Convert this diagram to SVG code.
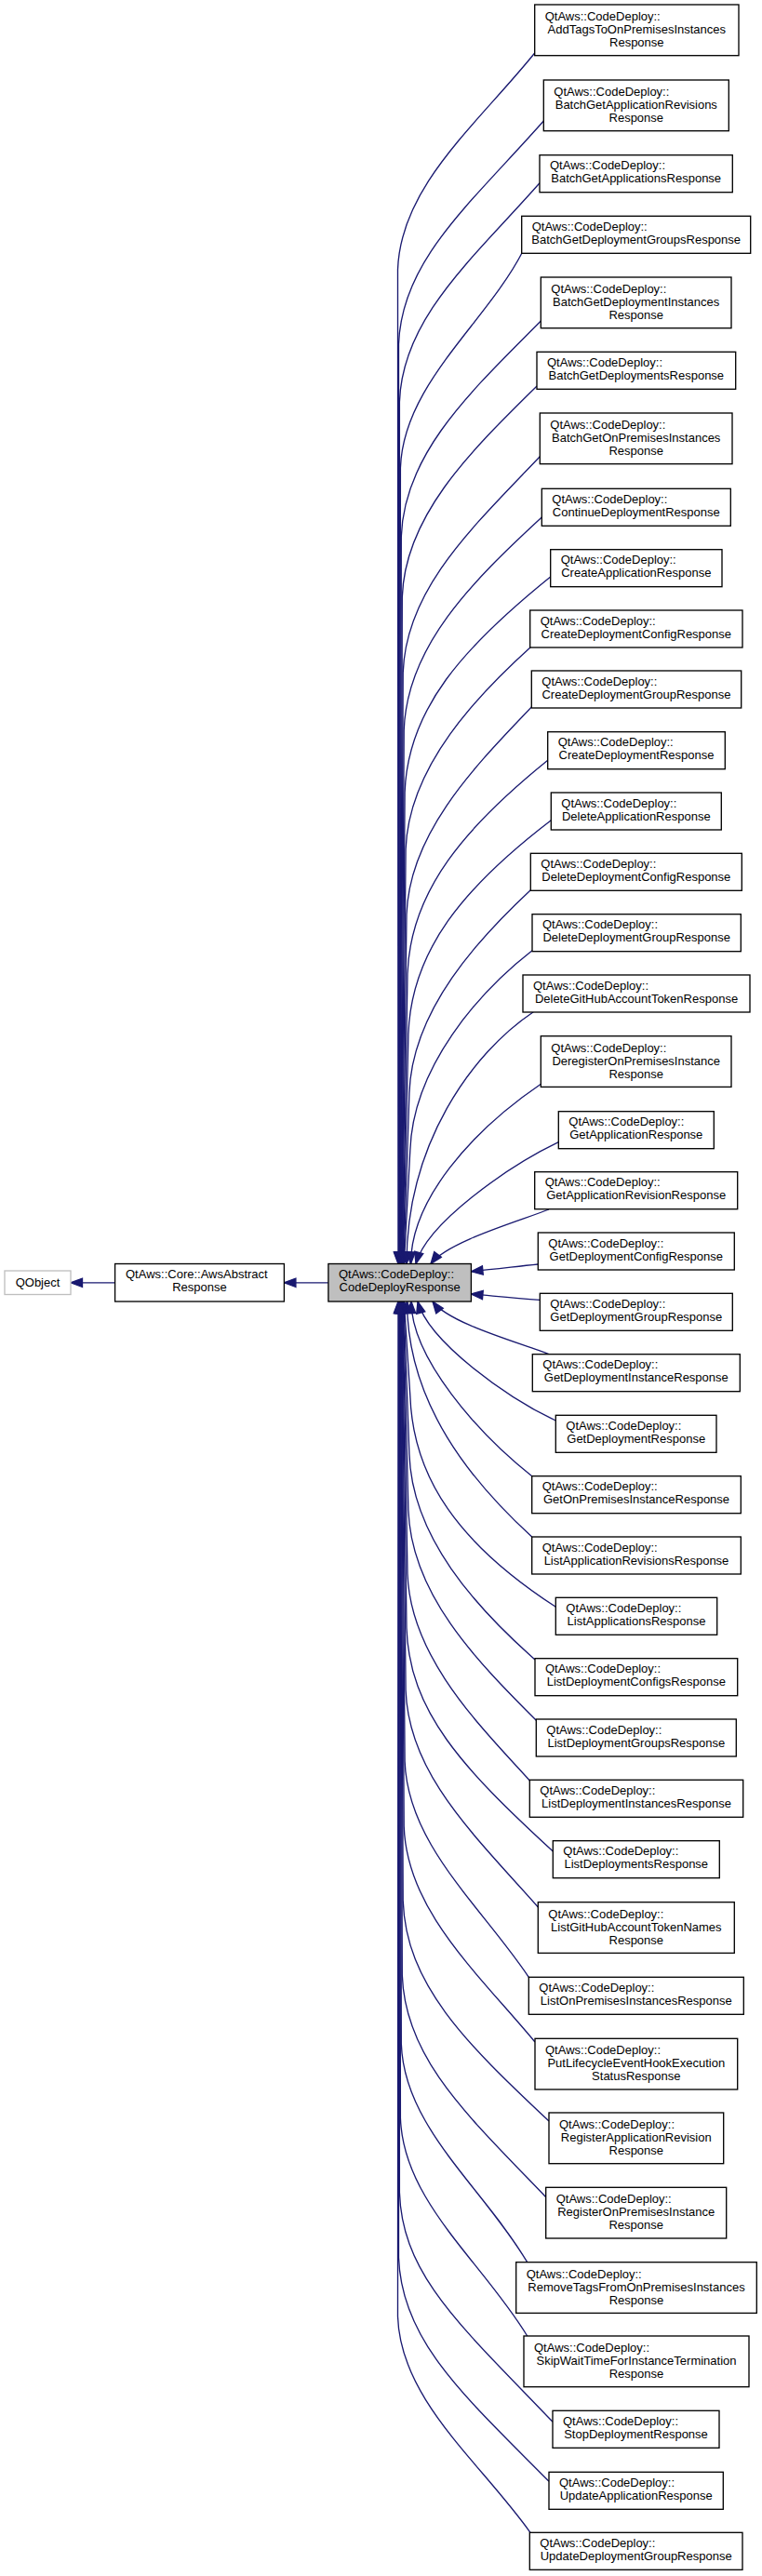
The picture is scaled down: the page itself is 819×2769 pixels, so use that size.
<svg xmlns="http://www.w3.org/2000/svg" width="819" height="2769" viewBox="0 0 819 2769">
<defs>
<style>
.n rect{fill:#ffffff;stroke:#000000;stroke-width:1.33}
.g rect{fill:#ffffff;stroke:#bfbfbf;stroke-width:1.33}
.p rect{fill:#bfbfbf;stroke:#000000;stroke-width:1.33}
text{font-family:"Liberation Sans",Arial,Helvetica,sans-serif;font-size:13px;fill:#000000}
.m{text-anchor:middle}
#edges path{fill:none;stroke:#191970;stroke-width:1.33;marker-end:url(#ah)}
</style>
<marker id="ah" markerUnits="userSpaceOnUse" markerWidth="14" markerHeight="10" refX="12.5" refY="4.7" orient="auto" overflow="visible"><path d="M0,0 L12.5,4.7 L0,9.4 Z" fill="#191970" stroke="#191970" stroke-width="1.33"/></marker>
</defs>
<rect x="0" y="0" width="819" height="2769" fill="#ffffff"/>
<g id="edges">
<path d="M352.9,1378.8 L305.4,1378.8"/>
<path d="M123.6,1378.8 L76,1378.8"/>
<path d="M574.7,57 C512.2,134.4 430.5,200 427.5,290 L428,1358.5"/>
<path d="M584.3,130 C504.6,220 431.5,280 428.5,370 L428.5,1358.5"/>
<path d="M580,196.7 C508,278.2 432.4,342 429.4,432 L429,1358.5"/>
<path d="M562,270 C522.4,347.4 433.4,413 430.4,503 L429.4,1358.5"/>
<path d="M581.3,345 C507,420 434.3,486.7 431.3,576.7 L429.8,1358.5"/>
<path d="M577,415 C510.4,481 435.3,551.7 432.3,641.7 L430.3,1358.5"/>
<path d="M580.3,490.7 C507.8,566.8 436.2,633 433.2,723 L430.7,1358.5"/>
<path d="M582.3,556 C506.2,626.2 437.2,695 434.2,785 L431.2,1358.5"/>
<path d="M591.7,620 C498.6,695.1 438.1,761.7 435.1,851.7 L431.6,1358.5"/>
<path d="M571,695 C515.2,745.4 439.1,823 436.1,913 L432,1358.5"/>
<path d="M571.3,760 C515,819.4 440,893 437,983 L432.5,1358.5"/>
<path d="M588.7,817.3 C501,888.2 441,956.7 438,1046.7 L433,1358.5"/>
<path d="M592.3,881.7 C498.2,953.7 441.9,1021.7 438.9,1111.7 L433.4,1358.5"/>
<path d="M570.3,956.7 C515.8,1007.6 442.9,1085 439.9,1175 L433.9,1358.5"/>
<path d="M572,1021.7 C514.4,1066.7 443.8,1146.7 440.8,1236.7 L434.3,1358.5"/>
<path d="M573.3,1087.7 C506.7,1132.3 437,1230 437,1358.5"/>
<path d="M581.7,1165 C506.6,1216 441.5,1290 441.5,1358.5"/>
<path d="M600.3,1227.7 C546,1253.8 458.7,1315 447,1358.5"/>
<path d="M590,1300 C560,1312 481,1334.5 463,1358.5"/>
<path d="M578.3,1359 C550,1362 530,1364.5 506.4,1366.7"/>
<path d="M580.3,1397.3 C550,1395 530,1393 506.4,1391"/>
<path d="M590,1455.7 C560,1443.7 483,1423 465,1399"/>
<path d="M597.3,1527 C545.7,1502.7 460.7,1442.5 449,1399"/>
<path d="M571.7,1586.7 C514.6,1541.7 442,1460 442,1399"/>
<path d="M571.7,1652 C508.3,1594 437.5,1510 437.5,1399"/>
<path d="M597.3,1727.3 C494.2,1660.2 443.8,1590 440.8,1500 L434.3,1399"/>
<path d="M575,1784 C512,1728.2 442.9,1653 439.9,1563 L433.9,1399"/>
<path d="M576.3,1849.3 C511,1784 441.9,1713 438.9,1623 L433.4,1399"/>
<path d="M569.3,1914 C516.6,1855.9 441,1781.7 438,1691.7 L433,1399"/>
<path d="M594.3,1990 C496.6,1900 440,1840 437,1750 L432.5,1399"/>
<path d="M578.3,2050 C509.4,1972.1 439.1,1906.7 436.1,1816.7 L432,1399"/>
<path d="M568.3,2125.3 C517.4,2049.2 438.1,1983 435.1,1893 L431.6,1399"/>
<path d="M575,2195 C512,2119.4 437.2,2053 434.2,1963 L431.2,1399"/>
<path d="M590,2280 C500,2195.4 436.2,2133 433.2,2043 L430.7,1399"/>
<path d="M586.7,2361.7 C502.6,2274 435.3,2213 432.3,2123 L430.3,1399"/>
<path d="M566.7,2431.7 C518.6,2350.7 434.3,2286.7 431.3,2196.7 L429.8,1399"/>
<path d="M566.7,2511 C518.6,2431.3 433.4,2366.7 430.4,2276.7 L429.4,1399"/>
<path d="M594,2603.3 C496.8,2501.4 432.4,2446.7 429.4,2356.7 L429,1399"/>
<path d="M590,2667.3 C500,2576.2 431.5,2516.7 428.5,2426.7 L428.5,1399"/>
<path d="M570,2722.3 C516,2646.2 430.5,2580 427.5,2490 L428,1399"/>
</g>
<g id="qobject" class="g"><rect x="5" y="1366" width="71" height="25.5"/><text class="m" x="40.5" y="1383">QObject</text></g>
<g id="awsabstractresponse" class="n"><rect x="123.6" y="1358.5" width="181.8" height="40.5"/><text x="135" y="1374">QtAws::Core::AwsAbstract</text><text class="m" x="214.5" y="1388">Response</text></g>
<g id="codedeployresponse" class="p"><rect x="352.9" y="1358.5" width="153.5" height="40.5"/><text x="364" y="1374">QtAws::CodeDeploy::</text><text class="m" x="429.6" y="1388">CodeDeployResponse</text></g>
<g id="n01" class="n"><rect x="574.7" y="5" width="219.3" height="54.7"/><text x="585.7" y="22">QtAws::CodeDeploy::</text><text class="m" x="684.3" y="36">AddTagsToOnPremisesInstances</text><text class="m" x="684.3" y="50">Response</text></g>
<g id="n02" class="n"><rect x="584.3" y="86" width="199" height="54.7"/><text x="595.3" y="103">QtAws::CodeDeploy::</text><text class="m" x="683.8" y="117">BatchGetApplicationRevisions</text><text class="m" x="683.8" y="131">Response</text></g>
<g id="n03" class="n"><rect x="580" y="166.7" width="207.3" height="40"/><text x="591" y="182.2">QtAws::CodeDeploy::</text><text class="m" x="683.7" y="196.2">BatchGetApplicationsResponse</text></g>
<g id="n04" class="n"><rect x="560.7" y="232.3" width="246" height="40"/><text x="571.7" y="247.8">QtAws::CodeDeploy::</text><text class="m" x="683.7" y="261.8">BatchGetDeploymentGroupsResponse</text></g>
<g id="n05" class="n"><rect x="581.3" y="298" width="204.7" height="54.7"/><text x="592.3" y="315">QtAws::CodeDeploy::</text><text class="m" x="683.7" y="329">BatchGetDeploymentInstances</text><text class="m" x="683.7" y="343">Response</text></g>
<g id="n06" class="n"><rect x="577" y="378.3" width="213.7" height="40"/><text x="588" y="393.8">QtAws::CodeDeploy::</text><text class="m" x="683.8" y="407.8">BatchGetDeploymentsResponse</text></g>
<g id="n07" class="n"><rect x="580.3" y="444" width="206.7" height="54.7"/><text x="591.3" y="461">QtAws::CodeDeploy::</text><text class="m" x="683.7" y="475">BatchGetOnPremisesInstances</text><text class="m" x="683.7" y="489">Response</text></g>
<g id="n08" class="n"><rect x="582.3" y="525.3" width="203" height="40"/><text x="593.3" y="540.8">QtAws::CodeDeploy::</text><text class="m" x="683.8" y="554.8">ContinueDeploymentResponse</text></g>
<g id="n09" class="n"><rect x="591.7" y="590.7" width="184.3" height="40"/><text x="602.7" y="606.2">QtAws::CodeDeploy::</text><text class="m" x="683.8" y="620.2">CreateApplicationResponse</text></g>
<g id="n10" class="n"><rect x="569.7" y="656" width="228.3" height="40"/><text x="580.7" y="671.5">QtAws::CodeDeploy::</text><text class="m" x="683.8" y="685.5">CreateDeploymentConfigResponse</text></g>
<g id="n11" class="n"><rect x="571.3" y="721" width="225.4" height="40"/><text x="582.3" y="736.5">QtAws::CodeDeploy::</text><text class="m" x="684" y="750.5">CreateDeploymentGroupResponse</text></g>
<g id="n12" class="n"><rect x="588.7" y="786.7" width="190.6" height="40"/><text x="599.7" y="802.2">QtAws::CodeDeploy::</text><text class="m" x="684" y="816.2">CreateDeploymentResponse</text></g>
<g id="n13" class="n"><rect x="592.3" y="852" width="183" height="40"/><text x="603.3" y="867.5">QtAws::CodeDeploy::</text><text class="m" x="683.8" y="881.5">DeleteApplicationResponse</text></g>
<g id="n14" class="n"><rect x="570.3" y="917.3" width="227" height="40"/><text x="581.3" y="932.8">QtAws::CodeDeploy::</text><text class="m" x="683.8" y="946.8">DeleteDeploymentConfigResponse</text></g>
<g id="n15" class="n"><rect x="572" y="982.7" width="224.3" height="40"/><text x="583" y="998.2">QtAws::CodeDeploy::</text><text class="m" x="684.2" y="1012.2">DeleteDeploymentGroupResponse</text></g>
<g id="n16" class="n"><rect x="562" y="1048" width="244" height="40"/><text x="573" y="1063.5">QtAws::CodeDeploy::</text><text class="m" x="684" y="1077.5">DeleteGitHubAccountTokenResponse</text></g>
<g id="n17" class="n"><rect x="581.3" y="1113.7" width="204.7" height="54.7"/><text x="592.3" y="1130.7">QtAws::CodeDeploy::</text><text class="m" x="683.7" y="1144.7">DeregisterOnPremisesInstance</text><text class="m" x="683.7" y="1158.7">Response</text></g>
<g id="n18" class="n"><rect x="600.3" y="1194.7" width="167" height="40"/><text x="611.3" y="1210.2">QtAws::CodeDeploy::</text><text class="m" x="683.8" y="1224.2">GetApplicationResponse</text></g>
<g id="n19" class="n"><rect x="574.7" y="1259.7" width="218" height="40"/><text x="585.7" y="1275.2">QtAws::CodeDeploy::</text><text class="m" x="683.7" y="1289.2">GetApplicationRevisionResponse</text></g>
<g id="n20" class="n"><rect x="578.3" y="1325" width="211" height="40"/><text x="589.3" y="1340.5">QtAws::CodeDeploy::</text><text class="m" x="683.8" y="1354.5">GetDeploymentConfigResponse</text></g>
<g id="n21" class="n"><rect x="580.3" y="1390.3" width="207" height="40"/><text x="591.3" y="1405.8">QtAws::CodeDeploy::</text><text class="m" x="683.8" y="1419.8">GetDeploymentGroupResponse</text></g>
<g id="n22" class="n"><rect x="572.3" y="1455.7" width="223" height="40"/><text x="583.3" y="1471.2">QtAws::CodeDeploy::</text><text class="m" x="683.8" y="1485.2">GetDeploymentInstanceResponse</text></g>
<g id="n23" class="n"><rect x="597.3" y="1521.3" width="172.7" height="40"/><text x="608.3" y="1536.8">QtAws::CodeDeploy::</text><text class="m" x="683.7" y="1550.8">GetDeploymentResponse</text></g>
<g id="n24" class="n"><rect x="571.7" y="1586.7" width="224.6" height="40"/><text x="582.7" y="1602.2">QtAws::CodeDeploy::</text><text class="m" x="684" y="1616.2">GetOnPremisesInstanceResponse</text></g>
<g id="n25" class="n"><rect x="571.7" y="1652" width="224.6" height="40"/><text x="582.7" y="1667.5">QtAws::CodeDeploy::</text><text class="m" x="684" y="1681.5">ListApplicationRevisionsResponse</text></g>
<g id="n26" class="n"><rect x="597.3" y="1717.3" width="173.4" height="40"/><text x="608.3" y="1732.8">QtAws::CodeDeploy::</text><text class="m" x="684" y="1746.8">ListApplicationsResponse</text></g>
<g id="n27" class="n"><rect x="575" y="1782.7" width="217.7" height="40"/><text x="586" y="1798.2">QtAws::CodeDeploy::</text><text class="m" x="683.8" y="1812.2">ListDeploymentConfigsResponse</text></g>
<g id="n28" class="n"><rect x="576.3" y="1848" width="215" height="40"/><text x="587.3" y="1863.5">QtAws::CodeDeploy::</text><text class="m" x="683.8" y="1877.5">ListDeploymentGroupsResponse</text></g>
<g id="n29" class="n"><rect x="569.3" y="1913.3" width="229.4" height="40"/><text x="580.3" y="1928.8">QtAws::CodeDeploy::</text><text class="m" x="684" y="1942.8">ListDeploymentInstancesResponse</text></g>
<g id="n30" class="n"><rect x="594.3" y="1978.7" width="179" height="40"/><text x="605.3" y="1994.2">QtAws::CodeDeploy::</text><text class="m" x="683.8" y="2008.2">ListDeploymentsResponse</text></g>
<g id="n31" class="n"><rect x="578.3" y="2044.7" width="211" height="54.7"/><text x="589.3" y="2061.7">QtAws::CodeDeploy::</text><text class="m" x="683.8" y="2075.7">ListGitHubAccountTokenNames</text><text class="m" x="683.8" y="2089.7">Response</text></g>
<g id="n32" class="n"><rect x="568.3" y="2125.3" width="231" height="40"/><text x="579.3" y="2140.8">QtAws::CodeDeploy::</text><text class="m" x="683.8" y="2154.8">ListOnPremisesInstancesResponse</text></g>
<g id="n33" class="n"><rect x="575" y="2191.3" width="217.7" height="54.7"/><text x="586" y="2208.3">QtAws::CodeDeploy::</text><text class="m" x="683.8" y="2222.3">PutLifecycleEventHookExecution</text><text class="m" x="683.8" y="2236.3">StatusResponse</text></g>
<g id="n34" class="n"><rect x="590" y="2271" width="187.7" height="54.7"/><text x="601" y="2288">QtAws::CodeDeploy::</text><text class="m" x="683.8" y="2302">RegisterApplicationRevision</text><text class="m" x="683.8" y="2316">Response</text></g>
<g id="n35" class="n"><rect x="586.7" y="2351.3" width="194" height="54.7"/><text x="597.7" y="2368.3">QtAws::CodeDeploy::</text><text class="m" x="683.7" y="2382.3">RegisterOnPremisesInstance</text><text class="m" x="683.7" y="2396.3">Response</text></g>
<g id="n36" class="n"><rect x="554.7" y="2431.7" width="258.6" height="54.7"/><text x="565.7" y="2448.7">QtAws::CodeDeploy::</text><text class="m" x="684" y="2462.7">RemoveTagsFromOnPremisesInstances</text><text class="m" x="684" y="2476.7">Response</text></g>
<g id="n37" class="n"><rect x="563" y="2511" width="242" height="54.7"/><text x="574" y="2528">QtAws::CodeDeploy::</text><text class="m" x="684" y="2542">SkipWaitTimeForInstanceTermination</text><text class="m" x="684" y="2556">Response</text></g>
<g id="n38" class="n"><rect x="594" y="2591.3" width="179" height="40"/><text x="605" y="2606.8">QtAws::CodeDeploy::</text><text class="m" x="683.5" y="2620.8">StopDeploymentResponse</text></g>
<g id="n39" class="n"><rect x="590" y="2657.3" width="187.3" height="40"/><text x="601" y="2672.8">QtAws::CodeDeploy::</text><text class="m" x="683.7" y="2686.8">UpdateApplicationResponse</text></g>
<g id="n40" class="n"><rect x="569.3" y="2722.3" width="228.7" height="40"/><text x="580.3" y="2737.8">QtAws::CodeDeploy::</text><text class="m" x="683.7" y="2751.8">UpdateDeploymentGroupResponse</text></g>
</svg>
